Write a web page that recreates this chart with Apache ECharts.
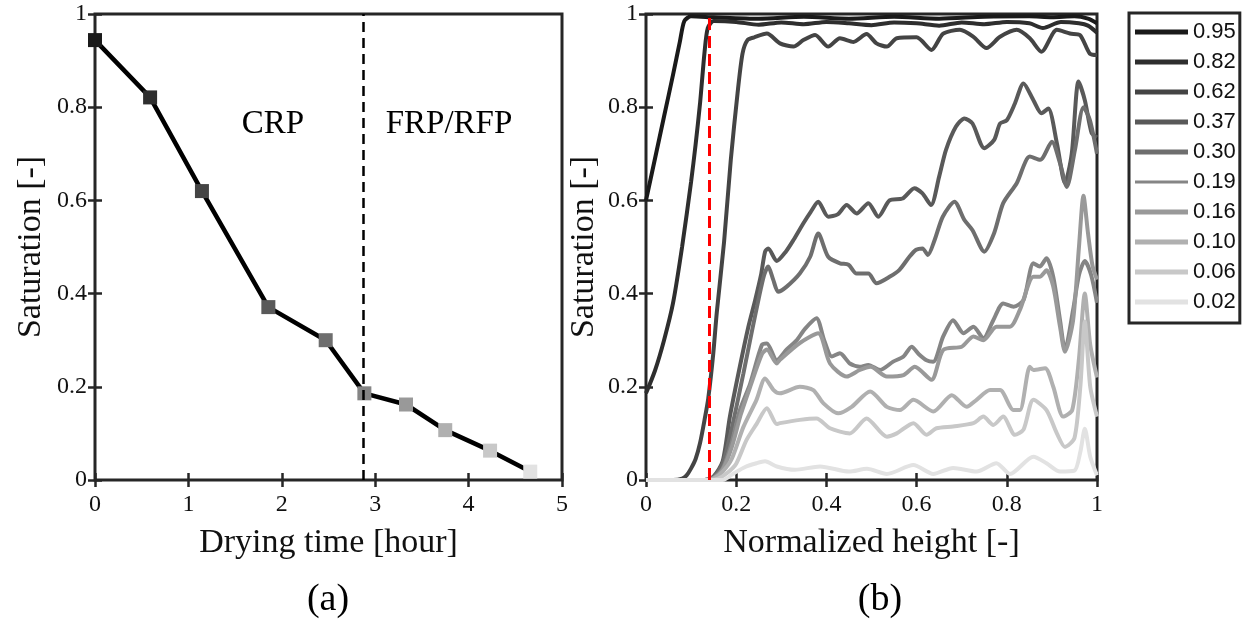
<!DOCTYPE html>
<html><head><meta charset="utf-8">
<script src="https://cdn.jsdelivr.net/npm/echarts@6/dist/echarts.min.js"></script>
<style>html,body{margin:0;padding:0;background:#fff}#c{width:1249px;height:621px}</style>
</head><body><div id="c"></div>
<script>
// ---- Panel (a): saturation vs drying time ----
const dryingTime = [0, 0.59, 1.145, 1.856, 2.47, 2.884, 3.33, 3.75, 4.23, 4.66];
const meanSaturation = [0.944, 0.821, 0.62, 0.371, 0.30, 0.186, 0.162, 0.107, 0.063, 0.018];
const markerColors = ['#1a1a1a', '#2e2e2e', '#444444', '#595959', '#6e6e6e', '#858585', '#999999', '#b0b0b0', '#c8c8c8', '#e2e2e2'];
const boundaryTime = 2.87;
const regionLabels = ['CRP', 'FRP/RFP'];

// ---- Panel (b): saturation profiles vs normalized height ----
const legendNames = ['0.95', '0.82', '0.62', '0.37', '0.30', '0.19', '0.16', '0.10', '0.06', '0.02'];
const lineColors = ['#1a1a1a', '#2e2e2e', '#444444', '#595959', '#6e6e6e', '#858585', '#999999', '#b0b0b0', '#c8c8c8', '#e2e2e2'];
const redLineHeight = 0.135;

const s095 = [[0,0.60],[0.02,0.69],[0.04,0.78],[0.06,0.87],[0.075,0.94],[0.085,0.985],[0.1,0.995],[0.15,0.993],[0.25,0.99],[0.35,0.994],[0.45,0.99],[0.55,0.994],[0.65,0.99],[0.75,0.994],[0.85,0.995],[0.9,0.993],[0.95,0.995],[0.98,0.99],[1,0.98]];
const s082 = [[0,0.186],[0.02,0.235],[0.04,0.30],[0.06,0.38],[0.08,0.50],[0.10,0.64],[0.11,0.72],[0.12,0.81],[0.13,0.92],[0.137,0.97],[0.15,0.985],[0.2,0.983],[0.25,0.977],[0.3,0.982],[0.35,0.978],[0.4,0.983],[0.45,0.98],[0.5,0.976],[0.55,0.982],[0.6,0.98],[0.65,0.975],[0.7,0.982],[0.75,0.978],[0.8,0.983],[0.85,0.98],[0.88,0.97],[0.92,0.983],[0.96,0.98],[0.98,0.975],[1,0.96]];
const s062 = [[0,0],[0.06,0],[0.08,0.003],[0.09,0.01],[0.1,0.025],[0.11,0.045],[0.12,0.08],[0.13,0.13],[0.138,0.175],[0.149,0.27],[0.157,0.36],[0.173,0.51],[0.188,0.687],[0.203,0.83],[0.214,0.915],[0.225,0.944],[0.24,0.95],[0.268,0.958],[0.297,0.937],[0.327,0.93],[0.349,0.944],[0.375,0.955],[0.404,0.93],[0.43,0.948],[0.46,0.94],[0.489,0.957],[0.511,0.937],[0.534,0.93],[0.556,0.948],[0.6,0.95],[0.633,0.923],[0.659,0.958],[0.696,0.966],[0.726,0.951],[0.755,0.927],[0.785,0.951],[0.822,0.966],[0.851,0.948],[0.877,0.919],[0.911,0.966],[0.94,0.958],[0.962,0.955],[0.984,0.915],[1,0.912]];
const s037 = [[0,0],[0.13,0],[0.15,0.008],[0.17,0.04],[0.186,0.136],[0.208,0.243],[0.227,0.329],[0.242,0.386],[0.255,0.44],[0.264,0.49],[0.271,0.497],[0.29,0.47],[0.31,0.49],[0.327,0.515],[0.349,0.551],[0.365,0.575],[0.382,0.597],[0.404,0.565],[0.425,0.57],[0.445,0.59],[0.467,0.572],[0.493,0.594],[0.515,0.565],[0.54,0.60],[0.569,0.604],[0.595,0.626],[0.613,0.615],[0.632,0.59],[0.65,0.651],[0.665,0.708],[0.687,0.758],[0.706,0.776],[0.724,0.765],[0.75,0.712],[0.772,0.73],[0.785,0.765],[0.80,0.772],[0.818,0.808],[0.837,0.851],[0.859,0.815],[0.877,0.787],[0.892,0.797],[0.911,0.723],[0.929,0.637],[0.944,0.70],[0.959,0.855],[0.973,0.815],[0.988,0.745],[1,0.735]];
const s030 = [[0,0],[0.13,0],[0.15,0.006],[0.17,0.035],[0.19,0.11],[0.216,0.229],[0.235,0.32],[0.25,0.39],[0.262,0.44],[0.271,0.458],[0.282,0.43],[0.293,0.404],[0.312,0.415],[0.341,0.443],[0.364,0.479],[0.382,0.529],[0.404,0.479],[0.43,0.465],[0.449,0.462],[0.467,0.443],[0.493,0.443],[0.511,0.422],[0.54,0.436],[0.562,0.451],[0.584,0.479],[0.599,0.494],[0.613,0.497],[0.625,0.483],[0.64,0.515],[0.658,0.565],[0.684,0.597],[0.706,0.558],[0.724,0.536],[0.75,0.49],[0.772,0.53],[0.792,0.594],[0.822,0.637],[0.851,0.694],[0.874,0.687],[0.90,0.726],[0.918,0.68],[0.933,0.629],[0.951,0.708],[0.97,0.80],[0.984,0.773],[1,0.70]];
const s019 = [[0,0],[0.13,0],[0.15,0.005],[0.17,0.025],[0.19,0.08],[0.208,0.15],[0.231,0.207],[0.257,0.29],[0.268,0.293],[0.29,0.257],[0.312,0.28],[0.334,0.30],[0.353,0.325],[0.378,0.347],[0.395,0.30],[0.412,0.265],[0.43,0.272],[0.452,0.25],[0.474,0.243],[0.493,0.247],[0.519,0.236],[0.548,0.254],[0.571,0.265],[0.589,0.286],[0.605,0.27],[0.622,0.257],[0.637,0.254],[0.659,0.308],[0.681,0.343],[0.704,0.315],[0.726,0.329],[0.748,0.304],[0.77,0.343],[0.792,0.379],[0.815,0.372],[0.837,0.386],[0.859,0.465],[0.873,0.458],[0.888,0.476],[0.903,0.436],[0.918,0.343],[0.929,0.279],[0.947,0.365],[0.96,0.44],[0.973,0.47],[0.987,0.44],[1,0.38]];
const s016 = [[0,0],[0.13,0],[0.15,0.004],[0.17,0.022],[0.19,0.07],[0.21,0.14],[0.231,0.2],[0.257,0.27],[0.268,0.28],[0.29,0.25],[0.297,0.258],[0.341,0.294],[0.382,0.315],[0.408,0.25],[0.445,0.222],[0.474,0.236],[0.498,0.243],[0.534,0.222],[0.571,0.225],[0.596,0.243],[0.633,0.215],[0.659,0.279],[0.70,0.286],[0.726,0.308],[0.748,0.30],[0.777,0.329],[0.807,0.329],[0.829,0.365],[0.859,0.436],[0.873,0.436],[0.888,0.45],[0.903,0.415],[0.918,0.329],[0.929,0.275],[0.947,0.343],[0.96,0.50],[0.97,0.61],[0.98,0.53],[0.99,0.46],[1,0.43]];
const s010 = [[0,0],[0.13,0],[0.15,0.003],[0.17,0.018],[0.19,0.045],[0.216,0.114],[0.245,0.172],[0.264,0.218],[0.283,0.193],[0.297,0.186],[0.341,0.2],[0.371,0.193],[0.393,0.165],[0.426,0.143],[0.456,0.157],[0.497,0.19],[0.534,0.157],[0.563,0.15],[0.593,0.172],[0.637,0.147],[0.678,0.182],[0.711,0.157],[0.733,0.172],[0.763,0.193],[0.785,0.193],[0.815,0.15],[0.829,0.15],[0.851,0.243],[0.859,0.236],[0.885,0.24],[0.903,0.2],[0.925,0.136],[0.945,0.15],[0.96,0.26],[0.973,0.40],[0.985,0.29],[1,0.22]];
const s006 = [[0,0],[0.14,0],[0.16,0.003],[0.18,0.015],[0.2,0.035],[0.223,0.086],[0.245,0.12],[0.268,0.154],[0.29,0.12],[0.297,0.122],[0.341,0.129],[0.378,0.132],[0.408,0.111],[0.452,0.10],[0.489,0.132],[0.534,0.093],[0.556,0.10],[0.593,0.122],[0.622,0.097],[0.644,0.111],[0.681,0.115],[0.726,0.122],[0.748,0.136],[0.77,0.118],[0.792,0.136],[0.818,0.097],[0.837,0.108],[0.859,0.172],[0.888,0.15],[0.911,0.10],[0.929,0.071],[0.95,0.09],[0.963,0.2],[0.973,0.34],[0.985,0.2],[1,0.136]];
const s002 = [[0,0],[0.17,0],[0.194,0.014],[0.22,0.028],[0.245,0.036],[0.264,0.04],[0.29,0.029],[0.33,0.022],[0.386,0.029],[0.45,0.018],[0.49,0.024],[0.534,0.013],[0.593,0.032],[0.637,0.013],[0.681,0.026],[0.733,0.018],[0.777,0.036],[0.807,0.013],[0.859,0.05],[0.888,0.036],[0.918,0.018],[0.95,0.02],[0.963,0.06],[0.973,0.11],[0.985,0.05],[1,0.01]];
const profiles = [s095, s082, s062, s037, s030, s019, s016, s010, s006, s002];

const serif = 'Liberation Serif';
const textColor = '#111111';
const frame = '#262626';

function makeAxis(gridIndex, pos, min, max, interval, showLabel, name, nameGap) {
  return {
    gridIndex, type: 'value', position: pos, min, max, interval,
    axisLine: { show: false },
    axisTick: { show: true, inside: true, length: 7, lineStyle: { color: frame, width: 2.5 } },
    axisLabel: { show: showLabel, fontFamily: serif, fontSize: 24, color: textColor, margin: (pos === 'bottom') ? 13 : 8 },
    splitLine: { show: false },
    name: name || '', nameLocation: 'middle', nameGap: nameGap || 0,
    nameTextStyle: { fontFamily: serif, fontSize: 34, color: textColor }
  };
}

const series = [];
series.push({
  name: 'mean', type: 'line', xAxisIndex: 0, yAxisIndex: 0,
  data: dryingTime.map((t, i) => ({ value: [t, meanSaturation[i]], itemStyle: { color: markerColors[i] } })),
  symbol: 'rect', symbolSize: 14, showSymbol: true, clip: false,
  lineStyle: { color: '#000', width: 4.5 },
  z: 3,
  markLine: {
    silent: true, symbol: 'none', label: { show: false },
    lineStyle: { color: '#000', type: [10, 6], width: 2.5 },
    data: [{ xAxis: boundaryTime }]
  }
});
profiles.forEach((p, i) => {
  const s = {
    name: legendNames[i], type: 'line', xAxisIndex: 2, yAxisIndex: 2,
    data: p, symbol: 'none', smooth: 0.25,
    lineStyle: { color: lineColors[i], width: 4 },
    itemStyle: { color: lineColors[i] }
  };
  if (i === profiles.length - 1) {
    s.markLine = {
      silent: true, symbol: 'none', label: { show: false },
      lineStyle: { color: '#ff0000', type: [12, 6], width: 3 },
      data: [{ xAxis: redLineHeight }]
    };
  }
  series.push(s);
});

const thinIcon = 'path://M0,0H0.01V0.01H0Z M0,1H53V4H0Z M0,4.99H0.01V5H0Z';
const option = {
  animation: false,
  backgroundColor: '#ffffff',
  grid: [
    { left: 95, top: 14, width: 467, height: 466, show: true, borderColor: frame, borderWidth: 3, backgroundColor: 'transparent' },
    { left: 646, top: 14, width: 451, height: 466, show: true, borderColor: frame, borderWidth: 3, backgroundColor: 'transparent' }
  ],
  xAxis: [
    makeAxis(0, 'bottom', 0, 5, 1, true, 'Drying time [hour]', 46),
    makeAxis(0, 'top', 0, 5, 1, false),
    makeAxis(1, 'bottom', 0, 1, 0.2, true, 'Normalized height [-]', 46),
    makeAxis(1, 'top', 0, 1, 0.2, false)
  ],
  yAxis: [
    makeAxis(0, 'left', 0, 1, 0.2, true, 'Saturation [-]', 47),
    makeAxis(0, 'right', 0, 1, 0.2, false),
    makeAxis(1, 'left', 0, 1, 0.2, true, 'Saturation [-]', 45),
    makeAxis(1, 'right', 0, 1, 0.2, false)
  ],
  legend: {
    data: legendNames.map(n => (n === '0.19' ? { name: n, icon: thinIcon } : { name: n, icon: 'rect' })),
    orient: 'vertical', left: 1129, top: 13,
    itemWidth: 53, itemHeight: 5, itemGap: 8,
    padding: [8, 4, 10, 6],
    borderColor: frame, borderWidth: 3, borderRadius: 0,
    textStyle: { fontFamily: 'Liberation Sans', fontSize: 22, color: textColor, lineHeight: 22 }
  },
  graphic: [
    { type: 'text', x: 273, y: 124, style: { text: regionLabels[0], font: '33px "Liberation Serif"', fill: '#000', align: 'center', verticalAlign: 'middle' } },
    { type: 'text', x: 449, y: 124, style: { text: regionLabels[1], font: '33px "Liberation Serif"', fill: '#000', align: 'center', verticalAlign: 'middle' } },
    { type: 'text', x: 328, y: 600, style: { text: '(a)', font: '38px "Liberation Serif"', fill: '#000', align: 'center', verticalAlign: 'middle' } },
    { type: 'text', x: 880, y: 600, style: { text: '(b)', font: '38px "Liberation Serif"', fill: '#000', align: 'center', verticalAlign: 'middle' } }
  ],
  series
};
const chart = echarts.init(document.getElementById('c'), null, { renderer: 'canvas' });
chart.setOption(option);
</script></body></html>
